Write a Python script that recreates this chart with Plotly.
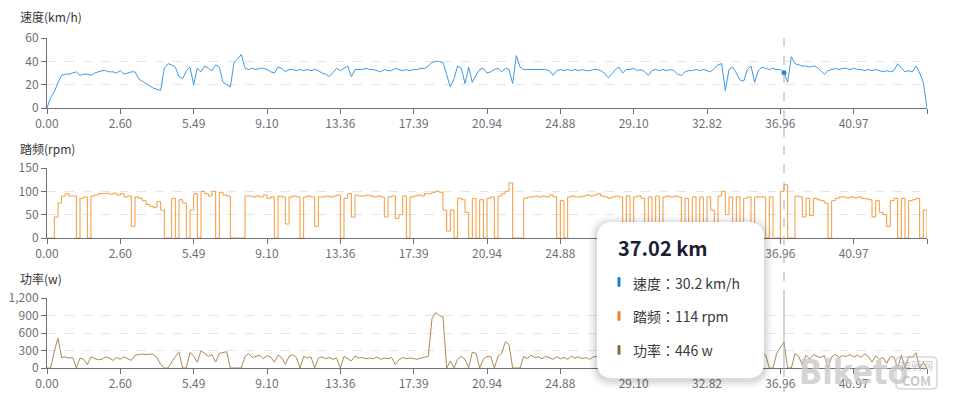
import plotly.graph_objects as go

# ---------------- data ----------------
tick_labels = ["0.00", "2.60", "5.49", "9.10", "13.36", "17.39", "20.94",
               "24.88", "29.10", "32.82", "36.96", "40.97", ""]

speed = [
    0, 9, 14, 22, 28, 29, 29, 30, 31, 28,
    29, 29, 28, 30, 31, 32, 32, 31, 31, 30,
    32, 29, 30, 31, 31, 25, 23, 21, 19, 17,
    16, 15, 34, 38, 37, 35, 27, 25, 32, 35,
    20, 34, 31, 36, 34, 32, 37, 35, 22, 20,
    18, 39, 42, 46, 34, 33, 34, 33, 34, 34,
    33, 31, 30, 35, 34, 31, 33, 33, 32, 33,
    32, 33, 32, 33, 32, 30, 29, 27, 31, 34,
    32, 34, 36, 27, 33, 33, 33, 34, 33, 33,
    32, 31, 33, 32, 32, 34, 33, 32, 33, 32,
    33, 33, 34, 34, 36, 39, 40, 40, 39, 28,
    18, 25, 36, 34, 21, 35, 22, 28, 33, 34,
    30, 31, 33, 34, 31, 34, 33, 21, 45, 35,
    33, 33, 33, 33, 33, 33, 33, 32, 28, 32,
    33, 32, 33, 32, 33, 32, 33, 32, 32, 33,
    33, 32, 30, 26, 29, 33, 35, 30, 33, 33,
    34, 32, 33, 31, 28, 32, 33, 32, 33, 32,
    33, 32, 29, 28, 31, 32, 32, 33, 32, 33,
    32, 31, 34, 37, 38, 15, 33, 35, 30, 24,
    23, 33, 36, 22, 32, 35, 34, 33, 34, 33,
    33, 30.2, 22, 44, 38, 37, 36, 36, 35, 36,
    35, 32, 29, 32, 33, 34, 33, 34, 34, 33,
    34, 33, 33, 32, 33, 32, 33, 32, 31, 32,
    31, 32, 38, 34, 31, 32, 31, 36, 30, 22,
    0,
]

cadence = [
    0, 0, 45, 75, 90, 95, 90, 90, 0, 85,
    88, 0, 90, 92, 95, 95, 96, 94, 96, 92,
    95, 88, 90, 25, 88, 85, 80, 72, 68, 65,
    78, 60, 0, 0, 85, 0, 82, 75, 0, 60,
    95, 0, 100, 95, 90, 100, 0, 98, 92, 90,
    0, 0, 0, 0, 90, 90, 88, 90, 88, 92,
    85, 88, 0, 90, 88, 30, 88, 90, 88, 0,
    88, 90, 88, 25, 88, 88, 90, 88, 90, 92,
    0, 85, 95, 45, 92, 90, 90, 92, 90, 88,
    90, 88, 45, 88, 90, 42, 50, 90, 0, 88,
    90, 92, 90, 95, 95, 98, 100, 98, 60, 15,
    60, 0, 85, 82, 55, 0, 85, 0, 82, 0,
    85, 88, 0, 90, 95, 100, 118, 0, 0, 0,
    85, 88, 88, 90, 88, 90, 88, 92, 88, 0,
    80, 0, 88, 90, 88, 88, 90, 92, 90, 92,
    95, 90, 88, 85, 88, 90, 88, 0, 90, 0,
    88, 90, 85, 0, 88, 0, 90, 0, 88, 90,
    88, 90, 88, 0, 85, 0, 88, 0, 88, 0,
    88, 60, 0, 90, 100, 50, 88, 0, 88, 0,
    85, 88, 0, 88, 88, 88, 0, 88, 0, 0,
    100, 114, 0, 0, 90, 88, 45, 85, 48, 85,
    82, 80, 75, 0, 80, 85, 88, 88, 86, 88,
    86, 88, 85, 84, 82, 45, 80, 55, 50, 25,
    80, 85, 0, 85, 0, 80, 82, 85, 0, 60,
    0,
]

power = [
    0, 0, 290, 510, 180, 190, 170, 180, 0, 170,
    150, 60, 190, 170, 140, 150, 190, 170, 130, 180,
    150, 190, 160, 130, 220, 230, 240, 230, 240, 230,
    180, 60, 0, 0, 110, 200, 270, 0, 0, 270,
    200, 100, 300, 250, 200, 230, 100, 250, 270, 280,
    0, 0, 0, 0, 200, 250, 180, 200, 220, 160,
    210, 190, 100, 220, 180, 60, 200, 230, 180, 0,
    200, 170, 190, 0, 170, 190, 160, 180, 150, 170,
    0, 200, 160, 120, 210, 170, 180, 160, 170, 160,
    190, 150, 170, 160, 180, 60, 140, 180, 160, 170,
    160, 150, 170, 180, 200, 850, 950, 900, 880, 0,
    120, 0, 150, 200, 150, 0, 270, 250, 0, 150,
    200, 200, 0, 200, 250, 450, 400, 0, 0, 0,
    200, 160, 220, 180, 190, 160, 200, 170, 150, 190,
    160, 180, 150, 200, 170, 190, 160, 180, 150, 190,
    200, 170, 160, 120, 180, 200, 60, 190, 170, 40,
    180, 200, 170, 30, 60, 190, 210, 40, 180, 200,
    190, 210, 180, 30, 170, 30, 190, 40, 200, 30,
    180, 150, 40, 220, 260, 120, 200, 40, 210, 30,
    190, 200, 40, 220, 210, 250, 220, 0, 0, 250,
    350, 446, 0, 0, 250, 200, 50, 220, 150, 230,
    200, 180, 210, 0, 190, 230, 180, 210, 200, 230,
    190, 220, 180, 240, 200, 100, 210, 150, 180, 80,
    200, 180, 0, 220, 0, 200, 180, 260, 0, 100,
    0,
]

hover_index = 201
hover_title = "37.02 km"
hover_speed = "30.2 km/h"
hover_cadence = "114 rpm"
hover_power = "446 w"

# ---------------- styles ----------------
C_SPEED = "#3d9be9"
C_CAD = "#f49a3c"
C_POW = "#ab8a55"
AXIS_C = "#6E7079"
GRID_C = "#E0E6F1"
FONT = "Noto Sans CJK SC, Noto Sans, sans-serif"
FONT_TIP = "Noto Sans CJK TC, Noto Sans CJK SC, sans-serif"

# page body has an 8px default margin: shrink the figure to compensate
OFF = 8
W, H = 955 - OFF, 400 - OFF
PLOT_L, PLOT_R, PLOT_T, PLOT_B = 47, 927, 38, 368   # reference page pixels
L, T = PLOT_L - OFF, PLOT_T - OFF
R, B = W - (PLOT_R - OFF), H - (PLOT_B - OFF)
PW, PH = PLOT_R - PLOT_L, PLOT_B - PLOT_T


def px(x):
    return (x - PLOT_L) / PW


def py(y):
    return (PLOT_B - y) / PH


n = len(speed)
idx = list(range(n))
tickvals = list(range(0, n, 20))

fig = go.Figure()
fig.add_trace(go.Scatter(x=idx, y=speed, mode="lines", line=dict(color=C_SPEED, width=1),
                         xaxis="x", yaxis="y", showlegend=False))
fig.add_trace(go.Scatter(x=[hover_index], y=[speed[hover_index]], mode="markers",
                         marker=dict(color="#2f7fcf", size=5), xaxis="x", yaxis="y",
                         showlegend=False))
fig.add_trace(go.Scatter(x=idx, y=cadence, mode="lines",
                         line=dict(color=C_CAD, width=1, shape="hv"),
                         xaxis="x2", yaxis="y2", showlegend=False))
fig.add_trace(go.Scatter(x=idx, y=power, mode="lines", line=dict(color=C_POW, width=1),
                         xaxis="x3", yaxis="y3", showlegend=False))

tickfont = dict(family=FONT, size=12, color=AXIS_C)


def xaxis(anchor):
    return dict(domain=[0, 1], anchor=anchor, range=[0, n - 1], tickmode="array",
                tickvals=tickvals, ticktext=tick_labels, showline=True, linecolor=AXIS_C,
                linewidth=1, ticks="outside", ticklen=5, tickcolor=AXIS_C, showgrid=False,
                zeroline=False, tickfont=tickfont, automargin=False)


def yaxis(anchor, dom, rng, dtick, fmt=None):
    d = dict(domain=dom, anchor=anchor, range=rng, dtick=dtick, tick0=0, showline=True,
             linecolor=AXIS_C, linewidth=1, ticks="outside", ticklen=5, tickcolor=AXIS_C,
             showgrid=True, gridcolor=GRID_C, griddash="dash", gridwidth=1,
             zeroline=False, tickfont=tickfont, automargin=False)
    if fmt:
        d["tickformat"] = fmt
    return d


fig.update_layout(
    width=W, height=H,
    margin=dict(l=L, r=R, t=T, b=B, autoexpand=False),
    paper_bgcolor="white", plot_bgcolor="white",
    font=dict(family=FONT),
    xaxis=xaxis("y"), xaxis2=xaxis("y2"), xaxis3=xaxis("y3"),
    yaxis=yaxis("x", [py(108), py(38)], [0, 60], 20),
    yaxis2=yaxis("x2", [py(238), py(168)], [0, 150], 50),
    yaxis3=yaxis("x3", [py(368), py(298)], [0, 1200], 300, ",d"),
)

# axis names
for txt, yy in [("速度(km/h)", 17), ("踏频(rpm)", 148), ("功率(w)", 278)]:
    fig.add_annotation(text=txt, xref="paper", yref="paper", x=px(18), y=py(yy),
                       xanchor="left", yanchor="middle", showarrow=False,
                       font=dict(family=FONT, size=12, color="#333333"))

shapes = []
# hover pointer line
shapes.append(dict(type="line", xref="x", yref="paper", x0=hover_index, x1=hover_index,
                   y0=py(38), y1=py(298), line=dict(color="#aaaaaa", width=1, dash="dash")))
shapes.append(dict(type="line", xref="x", yref="paper", x0=hover_index, x1=hover_index,
                   y0=py(298), y1=py(368), line=dict(color="#aaaaaa", width=1)))
shapes.append(dict(type="line", xref="x", yref="paper", x0=hover_index, x1=hover_index,
                   y0=py(368), y1=py(392), line=dict(color="#aaaaaa", width=1, dash="dash")))


def rrect(x0, y0, x1, y1, r):
    return (f"M {px(x0 + r)},{py(y0)} L {px(x1 - r)},{py(y0)} "
            f"Q {px(x1)},{py(y0)} {px(x1)},{py(y0 + r)} L {px(x1)},{py(y1 - r)} "
            f"Q {px(x1)},{py(y1)} {px(x1 - r)},{py(y1)} L {px(x0 + r)},{py(y1)} "
            f"Q {px(x0)},{py(y1)} {px(x0)},{py(y1 - r)} L {px(x0)},{py(y0 + r)} "
            f"Q {px(x0)},{py(y0)} {px(x0 + r)},{py(y0)} Z")


# tooltip box with soft shadow
bx0, by0, bx1, by1 = 597, 222, 764, 378
for k, a in [(8, 0.025), (6, 0.03), (4, 0.04), (2, 0.05)]:
    shapes.append(dict(type="path", xref="paper", yref="paper",
                       path=rrect(bx0 - k, by0 - k + 2, bx1 + k, by1 + k + 2, 16 + k),
                       fillcolor=f"rgba(0,0,0,{a})", line=dict(width=0), layer="above"))
shapes.append(dict(type="path", xref="paper", yref="paper", path=rrect(bx0, by0, bx1, by1, 16),
                   fillcolor="white", line=dict(width=0), layer="above"))

# tooltip markers
for col, yc in [("#1e7be0", 282), ("#f07f1e", 316), ("#8b6b35", 350)]:
    shapes.append(dict(type="path", xref="paper", yref="paper",
                       path=rrect(617.5, yc - 5, 620.5, yc + 5, 1.4),
                       fillcolor=col, line=dict(width=0), layer="above"))

# watermark badge outline
shapes.append(dict(type="path", xref="paper", yref="paper", path=rrect(896, 357, 937, 389, 5),
                   fillcolor="rgba(255,255,255,0)", line=dict(color="rgba(190,190,190,0.6)", width=1.5),
                   layer="above"))

fig.update_layout(shapes=shapes)

fig.add_annotation(text=f"<b>{hover_title}</b>", xref="paper", yref="paper", x=px(616), y=py(247),
                   xanchor="left", yanchor="middle", showarrow=False,
                   font=dict(family=FONT, size=20, color="#1c1c35"))
for lab, val, yc in [("速度", hover_speed, 283), ("踏频", hover_cadence, 316), ("功率", hover_power, 350)]:
    fig.add_annotation(text=f"{lab}：{val}", xref="paper", yref="paper", x=px(631), y=py(yc),
                       xanchor="left", yanchor="middle", showarrow=False,
                       font=dict(family=FONT_TIP, size=14, color="#3a3a3a"))

# watermark
fig.add_annotation(text="<b>Biketo</b>", xref="paper", yref="paper", x=px(797), y=py(372),
                   xanchor="left", yanchor="middle", showarrow=False,
                   font=dict(family="DejaVu Sans Condensed, DejaVu Sans", size=34,
                             color="rgba(200,200,200,0.8)"))
fig.add_annotation(text="美骑网", xref="paper", yref="paper", x=px(916), y=py(365),
                   xanchor="center", yanchor="middle", showarrow=False,
                   font=dict(family=FONT, size=11, color="rgba(185,185,185,0.85)"))
fig.add_annotation(text="<b>COM</b>", xref="paper", yref="paper", x=px(916), y=py(380),
                   xanchor="center", yanchor="middle", showarrow=False,
                   font=dict(family=FONT, size=13, color="rgba(190,190,190,0.85)"))

fig.write_html("out.html")
